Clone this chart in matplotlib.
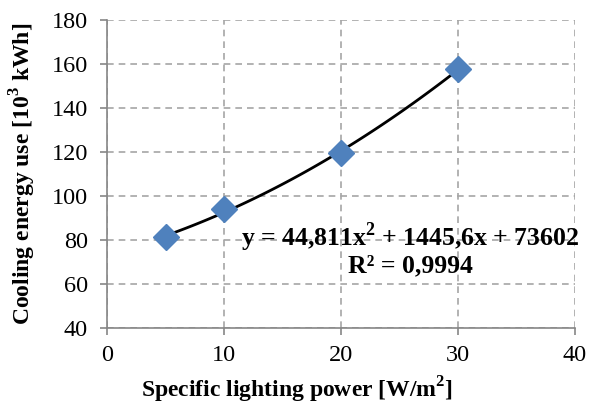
import numpy as np
import matplotlib.pyplot as plt

plt.rcParams['font.family'] = ['Liberation Serif', 'DejaVu Serif']

# data
power = [5, 10, 20, 30]              # W/m2
energy = [81.5, 94.0, 119.5, 157.5]  # 10^3 kWh
coef = [44.811, 1445.6, 73602]       # trendline, kWh
r2 = 0.9994

fig = plt.figure(figsize=(5.89, 4.05), dpi=100)
ax = fig.add_axes([0.182, 0.19, 0.794, 0.761])

xs = np.linspace(min(power), max(power), 100)
ax.plot(xs, np.polyval(coef, xs) / 1000, color='black', lw=2, zorder=3)
ax.plot(power, energy, 'D', color='#4F81BD', markersize=13, zorder=4)

ax.set_xlim(0, 40)
ax.set_ylim(40, 180)
ax.set_xticks(range(0, 41, 10))
ax.set_yticks(range(40, 181, 20))
ax.grid(True, color='#A6A6A6', ls=(0, (4, 3)), lw=1.2)
ax.set_axisbelow(True)
for s in ['top', 'right']:
    ax.spines[s].set_visible(False)
for s in ['left', 'bottom']:
    ax.spines[s].set_color('#868686')
    ax.spines[s].set_linewidth(1.2)
ax.tick_params(colors='#868686', labelcolor='black', labelsize=17.5, length=5, width=1.2)
ax.tick_params(axis='y', pad=9)
ax.tick_params(axis='x', pad=7)

ax.set_xlabel('Specific lighting power [W/m$^\\mathregular{2}$]', fontsize=17, fontweight='bold')
ax.xaxis.set_label_coords(0.406, -0.15)
ax.set_ylabel('Cooling energy use [10$^\\mathregular{3}$ kWh]', fontsize=17, fontweight='bold')
ax.yaxis.set_label_coords(-0.148, 0.5)

eq = 'y = 44,811x$^\\mathregular{2}$ + 1445,6x + 73602\nR² = 0,9994'
ax.text(25.9, 76, eq, ha='center', va='center', fontsize=18.5, fontweight='bold',
        linespacing=1.0, zorder=5)

fig.savefig('out.png', dpi=100)
